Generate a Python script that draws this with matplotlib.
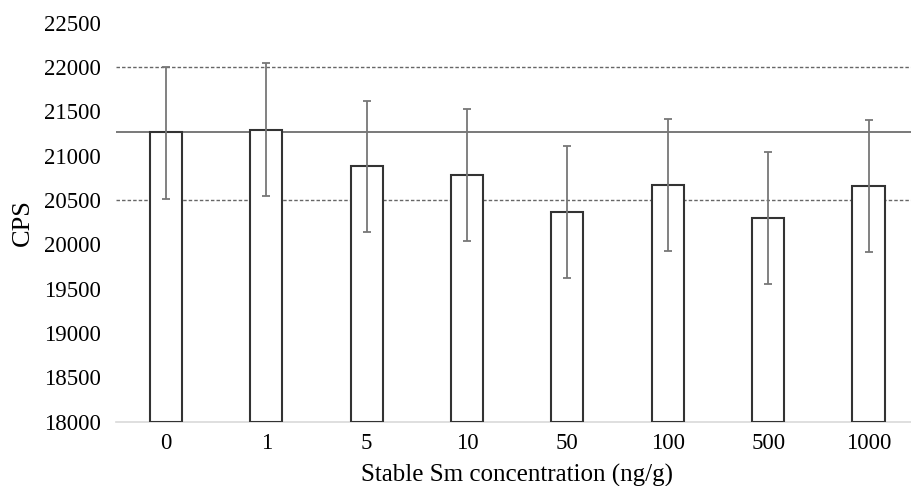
import numpy as np
import matplotlib.pyplot as plt

plt.rcParams['font.family'] = ['Liberation Serif', 'DejaVu Serif']

# data
concentrations = ['0', '1', '5', '10', '50', '100', '500', '1000']
cps = [21264, 21293, 20880, 20785, 20361, 20669, 20297, 20655]
err_up = [741, 747, 740, 738, 745, 748, 744, 747]
err_lo = [754, 748, 737, 744, 744, 741, 741, 745]
ref_line = 21264
limits = [22000, 20500]
yticks = [18000, 18500, 19000, 19500, 20000, 20500, 21000, 21500, 22000, 22500]

fig = plt.figure(figsize=(9.11, 4.86), dpi=100)
ax = fig.add_axes([115.7 / 911, 64.3 / 486, 803 / 911, 399 / 486])

x = np.arange(len(concentrations))
ax.bar(x, [v - 18000 for v in cps], bottom=18000, width=0.32,
       color='white', edgecolor='#333333', linewidth=1.5, zorder=3)
ax.errorbar(x, cps, yerr=[err_lo, err_up], fmt='none', ecolor='#777777',
            elinewidth=1.3, capsize=3, capthick=1.3, zorder=4)

ax.axhline(ref_line, color='#555555', linewidth=1.1, zorder=2)
for lim in limits:
    ax.axhline(lim, color='#666666', linewidth=1.0, linestyle=(0, (2.5, 1.5)), zorder=2)

ax.set_xlim(-0.5, len(concentrations) - 0.5)
ax.set_ylim(18000, 22500)
ax.set_yticks(yticks)
ax.set_xticks(x)
ax.set_xticklabels(concentrations)
ax.tick_params(axis='y', length=0, pad=11, labelsize=16.5)
ax.tick_params(axis='x', length=0, pad=8, labelsize=16.5)

for s in ['top', 'right', 'left']:
    ax.spines[s].set_visible(False)
ax.spines['bottom'].set_color('#d9d9d9')
ax.spines['bottom'].set_linewidth(1.2)

ax.set_ylabel('CPS', fontsize=19, labelpad=7)
ax.set_xlabel('Stable Sm concentration (ng/g)', fontsize=18, labelpad=7)

fig.savefig('out.png', dpi=100)
